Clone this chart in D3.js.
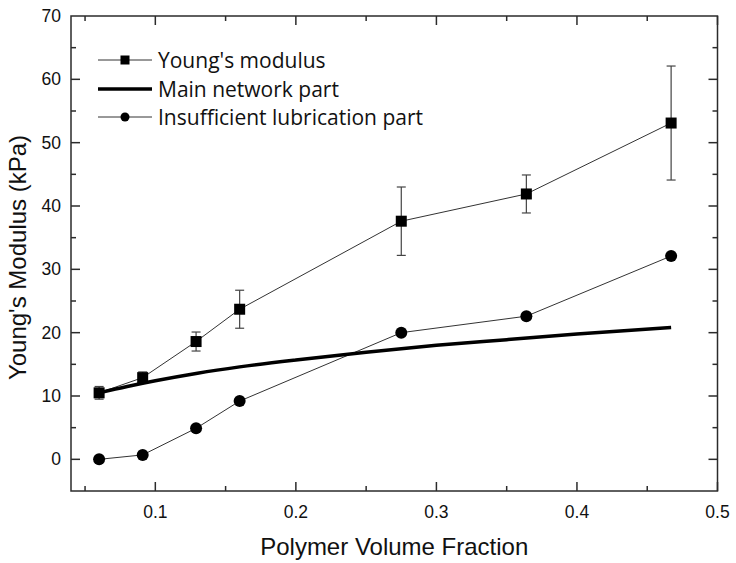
<!DOCTYPE html>
<html>
<head>
<meta charset="utf-8">
<script src="https://cdn.jsdelivr.net/npm/d3@7"></script>
<style>
  body { margin: 0; background: #fff; }
  svg { display: block; }
</style>
</head>
<body>
<svg id="chart" width="736" height="563"></svg>
<script>
var fraction = [0.06, 0.091, 0.129, 0.16, 0.275, 0.364, 0.467];
var youngsModulus = [10.5, 12.9, 18.6, 23.7, 37.6, 41.9, 53.1];
var youngsError = [1.0, 0.9, 1.5, 3.0, 5.4, 3.0, 9.0];
var lubricationPart = [0, 0.7, 4.9, 9.2, 20.0, 22.6, 32.1];

// main network part (smooth curve), read at several fractions
var networkFraction = [0.06, 0.08, 0.1, 0.13, 0.16, 0.2, 0.25, 0.3, 0.35, 0.4, 0.467];
var networkModulus = [10.5, 11.5, 12.4, 13.6, 14.6, 15.7, 16.9, 18.0, 18.9, 19.8, 20.8];

var xTicks = [0.1, 0.2, 0.3, 0.4, 0.5];
var yTicks = [0, 10, 20, 30, 40, 50, 60, 70];
var legendLabels = ["Young's modulus", "Main network part", "Insufficient lubrication part"];

// plot frame (note: "top" is reserved on window, so prefix these)
var plotLeft = 71, plotRight = 717.5, plotTop = 16, plotBottom = 491;
var svg = d3.select("#chart");

var x = d3.scaleLinear().domain([0.04, 0.5]).range([plotLeft, plotRight]);
var y = d3.scaleLinear().domain([-5, 70]).range([plotBottom, plotTop]);

var frameColor = "#2b2b2b";
var tickFont = "'Liberation Sans', Arial, sans-serif";

// inward ticks on all four sides, majors + minors
var xMinor = d3.range(0.05, 0.501, 0.05);
var yMinor = d3.range(-5, 70.1, 5);
function isMajorX(v){ return Math.abs(v * 10 - Math.round(v * 10)) < 1e-6; }
function isMajorY(v){ return v % 10 === 0; }

var ticks = svg.append("g").attr("stroke", frameColor).attr("stroke-width", 1.5);
xMinor.forEach(function(v){
    var len = isMajorX(v) ? 9 : 5;
    ticks.append("line").attr("x1", x(v)).attr("x2", x(v)).attr("y1", plotBottom).attr("y2", plotBottom - len);
    ticks.append("line").attr("x1", x(v)).attr("x2", x(v)).attr("y1", plotTop).attr("y2", plotTop + len);
});
yMinor.forEach(function(v){
    if (v <= -5 || v >= 70) return;
    var len = isMajorY(v) ? 9 : 5;
    ticks.append("line").attr("x1", plotLeft).attr("x2", plotLeft + len).attr("y1", y(v)).attr("y2", y(v));
    ticks.append("line").attr("x1", plotRight).attr("x2", plotRight - len).attr("y1", y(v)).attr("y2", y(v));
});

// tick labels
svg.append("g").selectAll("text").data(xTicks).join("text")
    .attr("x", function(d){ return x(d); }).attr("y", 518)
    .attr("text-anchor", "middle").attr("font-family", tickFont).attr("font-size", 17.5)
    .attr("fill", "#111").text(function(d){ return d3.format(".1f")(d); });
svg.append("g").selectAll("text").data(yTicks).join("text")
    .attr("x", 61).attr("y", function(d){ return y(d) + 6; })
    .attr("text-anchor", "end").attr("font-family", tickFont).attr("font-size", 17.5)
    .attr("fill", "#111").text(function(d){ return d; });

// axis titles
svg.append("text").attr("x", (plotLeft + plotRight) / 2).attr("y", 555)
    .attr("text-anchor", "middle").attr("font-family", tickFont).attr("font-size", 24)
    .attr("fill", "#111").text("Polymer Volume Fraction");
svg.append("text").attr("transform", "translate(26," + ((plotTop + plotBottom) / 2 + 4) + ") rotate(-90)")
    .attr("text-anchor", "middle").attr("font-family", tickFont).attr("font-size", 24)
    .attr("fill", "#111").text("Young's Modulus (kPa)");

var line = d3.line().x(function(d){ return x(d[0]); }).y(function(d){ return y(d[1]); });

// Young's modulus: thin line, error bars, squares
var youngsPts = fraction.map(function(f, i){ return [f, youngsModulus[i]]; });
svg.append("path").attr("d", line(youngsPts)).attr("fill", "none")
    .attr("stroke", "#333").attr("stroke-width", 1);
var err = svg.append("g").attr("stroke", "#444").attr("stroke-width", 1.2);
youngsPts.forEach(function(p, i){
    var hi = y(p[1] + youngsError[i]), lo = y(p[1] - youngsError[i]), cx = x(p[0]);
    err.append("line").attr("x1", cx).attr("x2", cx).attr("y1", hi).attr("y2", lo);
    err.append("line").attr("x1", cx - 4.5).attr("x2", cx + 4.5).attr("y1", hi).attr("y2", hi);
    err.append("line").attr("x1", cx - 4.5).attr("x2", cx + 4.5).attr("y1", lo).attr("y2", lo);
});

// insufficient lubrication part: thin line + circles
var lubPts = fraction.map(function(f, i){ return [f, lubricationPart[i]]; });
svg.append("path").attr("d", line(lubPts)).attr("fill", "none")
    .attr("stroke", "#333").attr("stroke-width", 1);

// main network part: thick smooth curve
var netPts = networkFraction.map(function(f, i){ return [f, networkModulus[i]]; });
svg.append("path").attr("d", line.curve(d3.curveMonotoneX)(netPts)).attr("fill", "none")
    .attr("stroke", "#000").attr("stroke-width", 3.5);

svg.append("g").selectAll("rect").data(youngsPts).join("rect")
    .attr("x", function(d){ return x(d[0]) - 5.5; }).attr("y", function(d){ return y(d[1]) - 5.5; })
    .attr("width", 11).attr("height", 11).attr("fill", "#000");
svg.append("g").selectAll("circle").data(lubPts).join("circle")
    .attr("cx", function(d){ return x(d[0]); }).attr("cy", function(d){ return y(d[1]); })
    .attr("r", 6).attr("fill", "#000");

// frame
svg.append("rect").attr("x", plotLeft).attr("y", plotTop)
    .attr("width", plotRight - plotLeft).attr("height", plotBottom - plotTop)
    .attr("fill", "none").attr("stroke", frameColor).attr("stroke-width", 1.5);

// legend
var legend = svg.append("g");
var rowY = [60, 89, 117];
legendLabels.forEach(function(label, i){
    var g = legend.append("g").attr("transform", "translate(0," + rowY[i] + ")");
    g.append("line").attr("x1", 98).attr("x2", 152).attr("y1", 0).attr("y2", 0)
        .attr("stroke", i === 1 ? "#000" : "#333").attr("stroke-width", i === 1 ? 3.5 : 1);
    if (i === 0) g.append("rect").attr("x", 120.5).attr("y", -4.5).attr("width", 9).attr("height", 9).attr("fill", "#000");
    if (i === 2) g.append("circle").attr("cx", 125).attr("cy", 0).attr("r", 4.5).attr("fill", "#000");
    g.append("text").attr("x", 158).attr("y", 7.5).attr("font-family", "'Open Sans', 'Noto Sans', sans-serif")
        .attr("font-size", 21).attr("fill", "#111").text(label);
});
</script>
</body>
</html>
